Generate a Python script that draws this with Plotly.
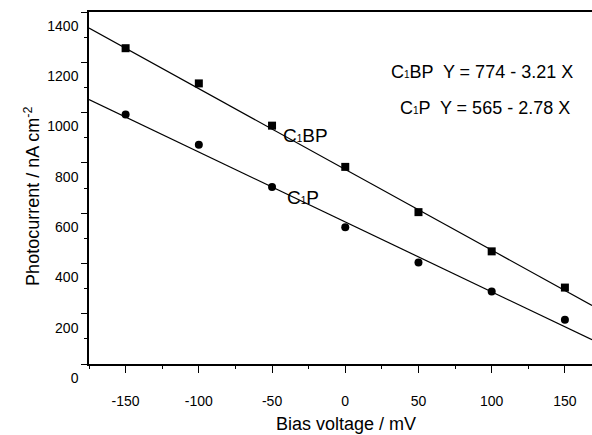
import plotly.graph_objects as go

bias_mv = [-150, -100, -50, 0, 50, 100, 150]
c1bp_current = [1256, 1116, 948, 784, 604, 448, 304]
c1p_current = [992, 872, 704, 544, 404, 288, 176]

fit_names = ["C<span style='font-size:10px'>1</span>BP", "C<span style='font-size:10px'>1</span>P"]
fit_intercepts = [774, 565]
fit_slopes = [-3.21, -2.78]

x_range = [-175, 168.5]
y_range = [0, 1400]
x_ticks = [-150, -100, -50, 0, 50, 100, 150]
x_ticktext = ["-150", "-100", "-50", "0", "50", "100", "150"]
y_ticks = [0, 200, 400, 600, 800, 1000, 1200, 1400]
y_ticktext = ["0", "200", "400", "600", "800", "1000", "1200", "1400"]

FONT = "Arial, Liberation Sans, sans-serif"

fig = go.Figure()

# fitted lines
for a, b in zip(fit_intercepts, fit_slopes):
    xs = [x_range[0], x_range[1]]
    ys = [a + b * x for x in xs]
    fig.add_trace(go.Scatter(x=xs, y=ys, mode="lines",
                             line=dict(color="black", width=1.2),
                             showlegend=False, hoverinfo="skip"))

fig.add_trace(go.Scatter(x=bias_mv, y=c1bp_current, mode="markers",
                         marker=dict(symbol="square", size=8, color="black"),
                         showlegend=False))
fig.add_trace(go.Scatter(x=bias_mv, y=c1p_current, mode="markers",
                         marker=dict(symbol="circle", size=8, color="black"),
                         showlegend=False))

# line labels
fig.add_annotation(x=-27, y=910, text=fit_names[0], showarrow=False,
                   font=dict(family=FONT, size=19, color="black"))
fig.add_annotation(x=-29, y=664, text=fit_names[1], showarrow=False,
                   font=dict(family=FONT, size=19, color="black"))

# equations
eqs = [f"{n}  Y = {a} - {abs(b):.2f} X" for n, a, b in zip(fit_names, fit_intercepts, fit_slopes)]
fig.add_annotation(xref="paper", yref="paper", x=(574 - 89) / 502, y=(364 - 72) / 352,
                   xanchor="right", yanchor="middle", text=eqs[0], showarrow=False,
                   font=dict(family=FONT, size=18, color="black"))
fig.add_annotation(xref="paper", yref="paper", x=(571 - 89) / 502, y=(364 - 108) / 352,
                   xanchor="right", yanchor="middle", text=eqs[1], showarrow=False,
                   font=dict(family=FONT, size=18, color="black"))

# axis titles
fig.add_annotation(xref="paper", yref="paper", x=(32 - 89) / 502, y=(364 - 196) / 352,
                   xanchor="center", yanchor="middle", textangle=-90,
                   text="Photocurrent / nA cm<sup>-2</sup>", showarrow=False,
                   font=dict(family=FONT, size=18, color="black"))
fig.add_annotation(xref="paper", yref="paper", x=(345 - 89) / 502, y=(364 - 424) / 352,
                   xanchor="center", yanchor="middle",
                   text="Bias voltage / mV", showarrow=False,
                   font=dict(family=FONT, size=18, color="black"))

fig.update_layout(
    width=592, height=435,
    margin=dict(l=89, r=0, t=12, b=71),
    plot_bgcolor="white", paper_bgcolor="white",
    font=dict(family=FONT, color="black", size=14),
    showlegend=False,
)

fig.update_xaxes(
    range=x_range, tickmode="array", tickvals=x_ticks, ticktext=x_ticktext,
    ticks="outside", ticklen=7, tickwidth=1.2, tickcolor="black",
    minor=dict(dtick=25, tick0=0, ticks="outside", ticklen=3, tickcolor="black"),
    showline=True, linecolor="black", linewidth=1.5, mirror=True,
    showgrid=False, zeroline=False, automargin=False,
    ticklabelstandoff=16,
    tickfont=dict(family=FONT, size=14),
)
fig.update_yaxes(
    range=y_range, tickmode="array", tickvals=y_ticks, ticktext=y_ticktext,
    ticks="outside", ticklen=6, tickwidth=1.2, tickcolor="black",
    minor=dict(dtick=100, tick0=0, ticks="outside", ticklen=3, tickcolor="black"),
    showline=True, linecolor="black", linewidth=1.5, mirror=False,
    showgrid=False, zeroline=False, automargin=False,
    ticklabelshift=14, ticklabelstandoff=0,
    tickfont=dict(family=FONT, size=14),
)

fig.write_html("out.html")
